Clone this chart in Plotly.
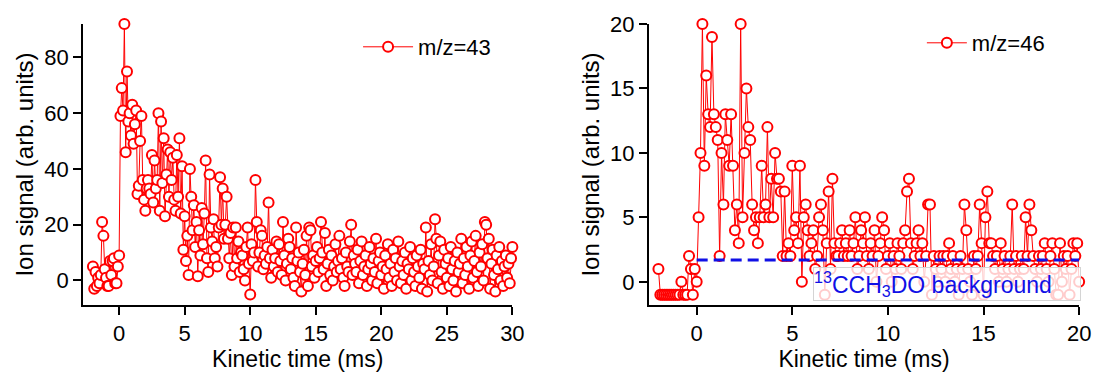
import plotly.graph_objects as go

# ---------------- data ----------------
T_START = -2.0
T_STEP = 0.1

# m/z = 43 signal, t = -2.0 ... 30.0 ms
sig43 = [
    # -2.0 .. -0.1
    5, -3, 3, -2, 1, -1, 2, 21, 16, 4,
    1, -2, -2, 7, 2, 7, 8, -1, -1, 5,
    # 0.0 .. 8.4
    9, 59, 69, 61, 92, 46, 75, 57, 60, 52,
    63, 49, 56, 61, 31, 34, 50, 59, 36, 29,
    25, 33, 36, 33, 31, 45, 28, 43, 33, 36,
    60, 25, 57, 35, 51, 23, 38, 47, 30, 46,
    36, 44, 29, 25, 45, 30, 51, 24, 41, 11,
    23, 7, 16, 2, 40, 30, 18, 27, 12, 21,
    1.5, 18, 9, 26, 13, 24, 43, 8, 3, 38,
    19, 14, 22, 8, 12, 5, 19, 37, 20, 33,
    15, 20, 30, 15, 8,
    # 8.5 .. 18.0
    17, 2, 19, 5, 19,
    8, 14, 3, 10, 9, 4, 0, 12, 19, 6,
    -5, 13, 7, 10, 36, 21, 5, 10, 18, 16,
    4, 9, 6, 12, 28, 8, 1, 11, 5, 8,
    14, 3, 13, 7, 2, 21, 9, 0, 6, 15,
    12, 4, 8, 1, -2, 19, 7, 10, 3, -4,
    6, 11, 2, 16, -2, 19, 18, 5, 9, 1,
    7, 12, 3, 8, 21, 10, 4, 17, -2, 6,
    11, 2, 9, 0, 5, 13, 3, 7, 16, 4,
    8, 1, -2, 10, 5, 3, 14, 20, 2, 9,
    6,
    # 18.1 .. 30.0
    3, 11, -1, 7, 14, 2, 5, 9, -2,
    4, 12, 6, 0, 8, 3, 15, -1, 7, 10,
    2, 5, -3, 9, 4, 13, 1, 6, -2, 11,
    3, 8, 0, 14, 5, -1, 7, 2, 10, -3,
    6, 4, 12, 0, 8, 3, -2, 9, 5, 1,
    11, -3, 6, 4, 19, -4, 7, 2, 13, 0,
    5, 22, 15, -1, 9, 14, 3, -3, 11, 6,
    1, 8, -2, 12, 4, 0, 7, -4, 10, 3,
    6, 15, -1, 8, 2, 12, 5, -3, 9, 14,
    1, 7, 16, 3, -2, 10, 5, 13, 0, 21,
    20, 8, 15, -3, 6, 11, 2, -4, 9, 4,
    12, 0, 7, -2, 5, 9, 1, 6, -1, 8,
    12,
]

# m/z = 46 signal, t = -2.0 ... 20.0 ms
sig46 = [
    # -2.0 .. -0.1
    1, -1, -1, -1, -1, -1, -1, -1, -1, -1,
    -1, -1, 0, -1, -1, -1, 2, 1, -1, 1,
    # 0.0 .. 7.9
    0, 5, 10, 20, 9, 16, 13, 12, 19, 13,
    12, 11, 2, 10, 6, 13, 11, 9, 13, 9,
    4, 6, 3, 20, 5, 10, 15, 12, 11, 6,
    4, 5, 3, 5, 9, 5, 6, 12, 5, 8,
    5, 10, 8, 8, 7, 2, 7, 2, 3, 2,
    9, 4, 5, 3, 9, 0, 5, 6, 4, 2,
    3, 4, 1, 2, 5, 6, 4, -1, 3, 7,
    1, 8, 3, 2, 2, 3, 4, 2, 3, 2,
    # 8.0 .. 20.0
    4, 2, 3, 5, 1, 2, 4, 3, 5, 2,
    1, 3, 2, 4, 0, 2, 3, 5, 4, 1,
    2, 3, 0, 2, 1, 3, 2, 1, 3, 4,
    7, 8, 3, 1, 2, 3, 4, 2, 3, 0,
    2, 6, 6, -1, 2, 1, 0, 2, 1, 2,
    0, 2, 3, 1, 2, 0, 1, -1, 2, 1,
    6, 4, 1, 0, -1, 2, 1, 2, 6, 3,
    -1, 5, 7, 3, 3, 2, 1, 2, 0, 3,
    1, 2, 0, 1, 2, 6, 1, 2, 0, 1,
    2, 1, 5, 2, 6, 4, 2, 1, 0, 2,
    1, 2, 3, 1, 0, 2, 3, 1, -1, -1,
    3, 0, 2, 1, 2, -1, 1, 3, 2, 3,
    0,
]

t43 = [round(T_START + T_STEP * i, 1) for i in range(len(sig43))]
t46 = [round(T_START + T_STEP * i, 1) for i in range(len(sig46))]

background_level = 1.7
background_t = [0, 20]

# ---------------- figure ----------------
RED = "#ff0000"
BLUE = "#1010e6"
FONT = "Liberation Sans, Arial, sans-serif"

W, H = 1104, 372
MT, MB = 24, 67
PH = H - MT - MB

fig = go.Figure()

marker = dict(symbol="circle", size=10, color="white", line=dict(color=RED, width=2))

fig.add_trace(go.Scatter(
    x=t43, y=sig43, mode="lines+markers", name="m/z=43",
    line=dict(color=RED, width=1), marker=marker,
    xaxis="x", yaxis="y", legend="legend", cliponaxis=False,
))
fig.add_trace(go.Scatter(
    x=t46, y=sig46, mode="lines+markers", name="m/z=46",
    line=dict(color=RED, width=1), marker=marker,
    xaxis="x2", yaxis="y2", legend="legend2", cliponaxis=False,
))
fig.add_trace(go.Scatter(
    x=background_t, y=[background_level] * len(background_t), mode="lines",
    line=dict(color=BLUE, width=3, dash="11px,6px"),
    xaxis="x2", yaxis="y2", showlegend=False,
))

def axis_style(title_size):
    return dict(
        showline=True, linewidth=2, linecolor="black",
        ticks="outside", ticklen=8, tickwidth=2, tickcolor="black",
        showgrid=False, zeroline=False, mirror=False,
        tickfont=dict(family=FONT, size=22, color="black"),
        title_font=dict(family=FONT, size=title_size, color="black"),
    )

fig.update_layout(
    width=W, height=H, autosize=False,
    margin=dict(l=0, r=0, t=MT, b=MB),
    paper_bgcolor="white", plot_bgcolor="white",
    font=dict(family=FONT, size=22, color="black"),
    xaxis=dict(domain=[84 / W, 518 / W], range=[-2.75, 30], dtick=5,
               anchor="y", title=dict(text="Kinetic time (ms)", standoff=2), **axis_style(23)),
    yaxis=dict(domain=[0, 1], range=[-8.8, 92], dtick=20,
               anchor="x", title=dict(text="Ion signal (arb. units)", standoff=4), **axis_style(24)),
    xaxis2=dict(domain=[656 / W, 1091 / W], range=[-2.5, 20], dtick=5,
                anchor="y2", title=dict(text="Kinetic time (ms)", standoff=2), **axis_style(23)),
    yaxis2=dict(domain=[0, 1], range=[-1.8, 20], dtick=5,
                anchor="x2", title=dict(text="Ion signal (arb. units)", standoff=4), **axis_style(24)),
    legend=dict(x=362 / W, y=(305 - 47) / PH, xanchor="left", yanchor="middle",
                itemwidth=50, bgcolor="rgba(0,0,0,0)",
                font=dict(family=FONT, size=22, color="black")),
    legend2=dict(x=932 / W, y=(305 - 43) / PH, xanchor="left", yanchor="middle",
                 itemwidth=40, bgcolor="rgba(0,0,0,0)",
                 font=dict(family=FONT, size=22, color="black")),
    showlegend=True,
)

fig.add_annotation(
    xref="paper", yref="paper",
    x=822 / W, y=(305 - 284) / PH,
    xanchor="left", yanchor="middle",
    text="<sup>13</sup>CCH<sub>3</sub>DO background",
    showarrow=False, align="left", width=266,
    font=dict(family=FONT, size=23, color=BLUE),
    bgcolor="rgba(255,255,255,0.8)", bordercolor="#d4d4d4", borderwidth=1, borderpad=0,
)

fig.write_html(
    "out.html",
    config={"displayModeBar": False, "responsive": False},
    post_script="document.body.style.margin='0';document.body.style.overflow='hidden';",
)
